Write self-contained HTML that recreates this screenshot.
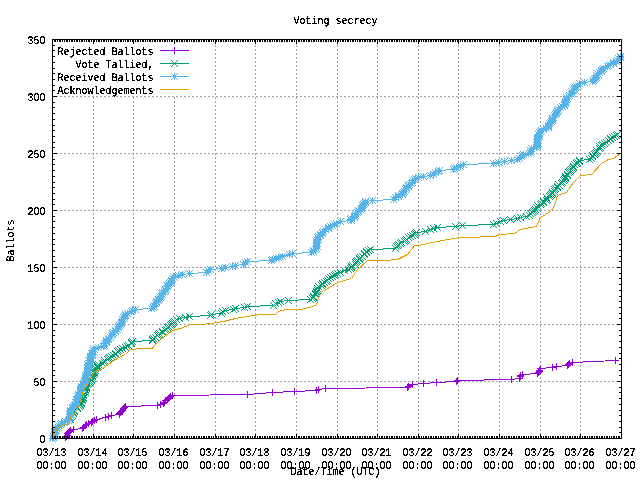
<!DOCTYPE html>
<html><head><meta charset="utf-8"><style>
html,body{margin:0;padding:0;background:#fff;overflow:hidden;}
svg{display:block;}
text{font-family:"Liberation Mono",monospace;font-size:11.5px;fill:#000;text-rendering:geometricPrecision;}
</style></head><body>
<svg width="640" height="480" viewBox="0 0 640 480">
<defs><filter id="crisp2" filterUnits="userSpaceOnUse" x="0" y="0" width="640" height="480"><feComponentTransfer><feFuncA type="discrete" tableValues="0 0 0 0 0 0 0 0 1 1 1 1 1 1 1 1 1 1 1 1"/></feComponentTransfer></filter><filter id="crisp" filterUnits="userSpaceOnUse" x="0" y="0" width="640" height="480"><feComponentTransfer><feFuncA type="discrete" tableValues="0 0 0 0 0 0 1 1 1 1 1 1 1 1 1 1 1 1 1 1"/></feComponentTransfer></filter></defs>
<rect width="640" height="480" fill="#fff"/>
<path d="M93.5 439V40M133.5 439V40M174.5 439V40M215.5 439V40M255.5 439V40M296.5 439V40M337.5 439V40M377.5 439V40M418.5 439V40M458.5 439V40M499.5 439V40M540.5 439V40M580.5 439V40M52 381.5H621M52 324.5H621M52 267.5H621M52 210.5H621M52 153.5H621M52 96.5H621" stroke="#a0a0a0" stroke-dasharray="2 2" fill="none" shape-rendering="crispEdges"/>
<polyline points="65.5,437.5 66.5,436.5 67.5,435.5 67.5,433.5 68.5,432.5 69.5,431.5 70.5,430.5 73.5,429.5 82.5,428.5 83.5,427.5 85.5,425.5 86.5,424.5 88.5,423.5 91.5,422.5 92.5,421.5 94.5,420.5 96.5,419.5 105.5,417.5 108.5,416.5 111.5,415.5 119.5,414.5 119.5,413.5 120.5,412.5 121.5,411.5 122.5,410.5 123.5,408.5 124.5,407.5 125.5,406.5 157.5,405.5 160.5,404.5 163.5,403.5 164.5,402.5 165.5,400.5 167.5,399.5 168.5,398.5 169.5,397.5 170.5,396.5 172.5,395.5 247.5,394.5 272.5,392.5 294.5,391.5 316.5,390.5 318.5,389.5 325.5,388.5 407.5,387.5 408.5,386.5 412.5,384.5 423.5,383.5 436.5,382.5 456.5,381.5 457.5,380.5 511.5,379.5 519.5,378.5 520.5,376.5 520.5,375.5 522.5,374.5 537.5,373.5 538.5,372.5 539.5,371.5 539.5,370.5 540.5,368.5 552.5,367.5 556.5,366.5 567.5,365.5 568.5,364.5 569.5,363.5 572.5,362.5 615.5,360.5" fill="none" stroke="#9400d3" shape-rendering="crispEdges"/><path d="M62.0 437.5h7M65.5 434.0v7M63.0 436.5h7M66.5 433.0v7M64.0 435.5h7M67.5 432.0v7M64.0 433.5h7M67.5 430.0v7M65.0 432.5h7M68.5 429.0v7M66.0 431.5h7M69.5 428.0v7M67.0 430.5h7M70.5 427.0v7M70.0 429.5h7M73.5 426.0v7M79.0 428.5h7M82.5 425.0v7M80.0 427.5h7M83.5 424.0v7M82.0 425.5h7M85.5 422.0v7M83.0 424.5h7M86.5 421.0v7M85.0 423.5h7M88.5 420.0v7M88.0 422.5h7M91.5 419.0v7M89.0 421.5h7M92.5 418.0v7M91.0 420.5h7M94.5 417.0v7M93.0 419.5h7M96.5 416.0v7M102.0 417.5h7M105.5 414.0v7M105.0 416.5h7M108.5 413.0v7M108.0 415.5h7M111.5 412.0v7M116.0 414.5h7M119.5 411.0v7M116.0 413.5h7M119.5 410.0v7M117.0 412.5h7M120.5 409.0v7M118.0 411.5h7M121.5 408.0v7M119.0 410.5h7M122.5 407.0v7M120.0 408.5h7M123.5 405.0v7M121.0 407.5h7M124.5 404.0v7M122.0 406.5h7M125.5 403.0v7M154.0 405.5h7M157.5 402.0v7M157.0 404.5h7M160.5 401.0v7M160.0 403.5h7M163.5 400.0v7M161.0 402.5h7M164.5 399.0v7M162.0 400.5h7M165.5 397.0v7M164.0 399.5h7M167.5 396.0v7M165.0 398.5h7M168.5 395.0v7M166.0 397.5h7M169.5 394.0v7M167.0 396.5h7M170.5 393.0v7M169.0 395.5h7M172.5 392.0v7M244.0 394.5h7M247.5 391.0v7M269.0 392.5h7M272.5 389.0v7M291.0 391.5h7M294.5 388.0v7M313.0 390.5h7M316.5 387.0v7M315.0 389.5h7M318.5 386.0v7M322.0 388.5h7M325.5 385.0v7M404.0 387.5h7M407.5 384.0v7M405.0 386.5h7M408.5 383.0v7M409.0 384.5h7M412.5 381.0v7M420.0 383.5h7M423.5 380.0v7M433.0 382.5h7M436.5 379.0v7M453.0 381.5h7M456.5 378.0v7M454.0 380.5h7M457.5 377.0v7M508.0 379.5h7M511.5 376.0v7M516.0 378.5h7M519.5 375.0v7M517.0 376.5h7M520.5 373.0v7M517.0 375.5h7M520.5 372.0v7M519.0 374.5h7M522.5 371.0v7M534.0 373.5h7M537.5 370.0v7M535.0 372.5h7M538.5 369.0v7M536.0 371.5h7M539.5 368.0v7M536.0 370.5h7M539.5 367.0v7M537.0 368.5h7M540.5 365.0v7M549.0 367.5h7M552.5 364.0v7M553.0 366.5h7M556.5 363.0v7M564.0 365.5h7M567.5 362.0v7M565.0 364.5h7M568.5 361.0v7M566.0 363.5h7M569.5 360.0v7M569.0 362.5h7M572.5 359.0v7M612.0 360.5h7M615.5 357.0v7" fill="none" stroke="#9400d3" shape-rendering="crispEdges"/>
<polyline points="52.5,438.5 53.5,437.5 53.5,436.5 54.5,435.5 55.5,433.5 54.5,432.5 54.5,431.5 56.5,430.5 55.5,429.5 56.5,428.5 58.5,427.5 58.5,425.5 60.5,424.5 61.5,423.5 64.5,422.5 65.5,421.5 68.5,420.5 70.5,419.5 70.5,417.5 71.5,416.5 72.5,415.5 71.5,414.5 73.5,413.5 73.5,412.5 74.5,411.5 74.5,410.5 77.5,408.5 77.5,407.5 79.5,406.5 80.5,405.5 80.5,404.5 81.5,403.5 81.5,402.5 82.5,400.5 82.5,399.5 83.5,398.5 83.5,397.5 82.5,396.5 83.5,395.5 83.5,394.5 85.5,392.5 84.5,391.5 85.5,390.5 85.5,389.5 86.5,388.5 86.5,387.5 86.5,386.5 87.5,384.5 88.5,383.5 89.5,382.5 90.5,381.5 91.5,380.5 91.5,379.5 92.5,378.5 92.5,376.5 92.5,375.5 93.5,374.5 94.5,373.5 94.5,372.5 94.5,371.5 95.5,370.5 95.5,368.5 97.5,367.5 97.5,366.5 97.5,365.5 98.5,364.5 102.5,363.5 104.5,362.5 104.5,360.5 107.5,359.5 108.5,358.5 109.5,357.5 111.5,356.5 113.5,355.5 115.5,354.5 115.5,353.5 117.5,351.5 118.5,350.5 120.5,349.5 122.5,348.5 125.5,347.5 127.5,346.5 128.5,345.5 131.5,343.5 131.5,342.5 132.5,341.5 152.5,340.5 152.5,339.5 153.5,338.5 155.5,337.5 157.5,335.5 158.5,334.5 159.5,333.5 162.5,332.5 162.5,331.5 165.5,330.5 166.5,329.5 167.5,327.5 168.5,326.5 170.5,325.5 171.5,324.5 172.5,323.5 173.5,322.5 174.5,321.5 176.5,319.5 179.5,318.5 185.5,317.5 189.5,316.5 210.5,315.5 211.5,314.5 221.5,313.5 222.5,311.5 225.5,310.5 233.5,309.5 235.5,308.5 244.5,307.5 247.5,306.5 273.5,305.5 275.5,303.5 278.5,302.5 280.5,301.5 288.5,300.5 310.5,299.5 312.5,298.5 313.5,297.5 313.5,296.5 315.5,294.5 315.5,293.5 316.5,292.5 316.5,291.5 317.5,290.5 318.5,289.5 317.5,288.5 318.5,286.5 321.5,285.5 322.5,284.5 322.5,283.5 324.5,282.5 326.5,281.5 327.5,280.5 328.5,278.5 330.5,277.5 332.5,276.5 334.5,275.5 335.5,274.5 337.5,273.5 340.5,272.5 344.5,270.5 348.5,269.5 350.5,268.5 351.5,267.5 351.5,266.5 352.5,265.5 355.5,264.5 355.5,262.5 356.5,261.5 357.5,260.5 359.5,259.5 359.5,258.5 360.5,257.5 362.5,256.5 364.5,254.5 364.5,253.5 366.5,252.5 366.5,251.5 368.5,250.5 370.5,249.5 395.5,248.5 396.5,246.5 397.5,245.5 398.5,244.5 400.5,243.5 401.5,242.5 404.5,241.5 405.5,240.5 406.5,239.5 408.5,237.5 410.5,236.5 412.5,235.5 414.5,234.5 415.5,233.5 416.5,232.5 425.5,231.5 430.5,229.5 433.5,228.5 437.5,227.5 455.5,226.5 462.5,225.5 493.5,224.5 496.5,223.5 500.5,221.5 503.5,220.5 510.5,219.5 517.5,218.5 520.5,217.5 526.5,216.5 529.5,215.5 530.5,213.5 532.5,212.5 533.5,211.5 534.5,210.5 535.5,209.5 537.5,208.5 536.5,207.5 537.5,205.5 540.5,204.5 541.5,203.5 543.5,202.5 543.5,201.5 546.5,200.5 547.5,199.5 546.5,197.5 549.5,196.5 550.5,195.5 551.5,194.5 552.5,193.5 552.5,192.5 554.5,191.5 554.5,189.5 555.5,188.5 557.5,187.5 557.5,186.5 559.5,185.5 558.5,184.5 561.5,183.5 562.5,182.5 563.5,180.5 564.5,179.5 565.5,178.5 565.5,177.5 565.5,176.5 567.5,175.5 567.5,174.5 568.5,172.5 569.5,171.5 570.5,170.5 571.5,169.5 572.5,168.5 573.5,167.5 573.5,166.5 574.5,164.5 576.5,163.5 577.5,162.5 579.5,161.5 579.5,160.5 589.5,159.5 591.5,158.5 592.5,156.5 592.5,155.5 594.5,154.5 595.5,153.5 596.5,152.5 597.5,151.5 596.5,150.5 599.5,148.5 600.5,147.5 599.5,146.5 601.5,145.5 602.5,144.5 604.5,143.5 606.5,142.5 608.5,140.5 610.5,139.5 610.5,138.5 612.5,137.5 614.5,136.5 616.5,135.5 617.5,134.5" fill="none" stroke="#009e73" shape-rendering="crispEdges"/><path d="M49.0 435.0l7 7M49.0 442.0l7 -7M50.0 434.0l7 7M50.0 441.0l7 -7M50.0 433.0l7 7M50.0 440.0l7 -7M51.0 432.0l7 7M51.0 439.0l7 -7M52.0 430.0l7 7M52.0 437.0l7 -7M51.0 429.0l7 7M51.0 436.0l7 -7M51.0 428.0l7 7M51.0 435.0l7 -7M53.0 427.0l7 7M53.0 434.0l7 -7M52.0 426.0l7 7M52.0 433.0l7 -7M53.0 425.0l7 7M53.0 432.0l7 -7M55.0 424.0l7 7M55.0 431.0l7 -7M55.0 422.0l7 7M55.0 429.0l7 -7M57.0 421.0l7 7M57.0 428.0l7 -7M58.0 420.0l7 7M58.0 427.0l7 -7M61.0 419.0l7 7M61.0 426.0l7 -7M62.0 418.0l7 7M62.0 425.0l7 -7M65.0 417.0l7 7M65.0 424.0l7 -7M67.0 416.0l7 7M67.0 423.0l7 -7M67.0 414.0l7 7M67.0 421.0l7 -7M68.0 413.0l7 7M68.0 420.0l7 -7M69.0 412.0l7 7M69.0 419.0l7 -7M68.0 411.0l7 7M68.0 418.0l7 -7M70.0 410.0l7 7M70.0 417.0l7 -7M70.0 409.0l7 7M70.0 416.0l7 -7M71.0 408.0l7 7M71.0 415.0l7 -7M71.0 407.0l7 7M71.0 414.0l7 -7M74.0 405.0l7 7M74.0 412.0l7 -7M74.0 404.0l7 7M74.0 411.0l7 -7M76.0 403.0l7 7M76.0 410.0l7 -7M77.0 402.0l7 7M77.0 409.0l7 -7M77.0 401.0l7 7M77.0 408.0l7 -7M78.0 400.0l7 7M78.0 407.0l7 -7M78.0 399.0l7 7M78.0 406.0l7 -7M79.0 397.0l7 7M79.0 404.0l7 -7M79.0 396.0l7 7M79.0 403.0l7 -7M80.0 395.0l7 7M80.0 402.0l7 -7M80.0 394.0l7 7M80.0 401.0l7 -7M79.0 393.0l7 7M79.0 400.0l7 -7M80.0 392.0l7 7M80.0 399.0l7 -7M80.0 391.0l7 7M80.0 398.0l7 -7M82.0 389.0l7 7M82.0 396.0l7 -7M81.0 388.0l7 7M81.0 395.0l7 -7M82.0 387.0l7 7M82.0 394.0l7 -7M82.0 386.0l7 7M82.0 393.0l7 -7M83.0 385.0l7 7M83.0 392.0l7 -7M83.0 384.0l7 7M83.0 391.0l7 -7M83.0 383.0l7 7M83.0 390.0l7 -7M84.0 381.0l7 7M84.0 388.0l7 -7M85.0 380.0l7 7M85.0 387.0l7 -7M86.0 379.0l7 7M86.0 386.0l7 -7M87.0 378.0l7 7M87.0 385.0l7 -7M88.0 377.0l7 7M88.0 384.0l7 -7M88.0 376.0l7 7M88.0 383.0l7 -7M89.0 375.0l7 7M89.0 382.0l7 -7M89.0 373.0l7 7M89.0 380.0l7 -7M89.0 372.0l7 7M89.0 379.0l7 -7M90.0 371.0l7 7M90.0 378.0l7 -7M91.0 370.0l7 7M91.0 377.0l7 -7M91.0 369.0l7 7M91.0 376.0l7 -7M91.0 368.0l7 7M91.0 375.0l7 -7M92.0 367.0l7 7M92.0 374.0l7 -7M92.0 365.0l7 7M92.0 372.0l7 -7M94.0 364.0l7 7M94.0 371.0l7 -7M94.0 363.0l7 7M94.0 370.0l7 -7M94.0 362.0l7 7M94.0 369.0l7 -7M95.0 361.0l7 7M95.0 368.0l7 -7M99.0 360.0l7 7M99.0 367.0l7 -7M101.0 359.0l7 7M101.0 366.0l7 -7M101.0 357.0l7 7M101.0 364.0l7 -7M104.0 356.0l7 7M104.0 363.0l7 -7M105.0 355.0l7 7M105.0 362.0l7 -7M106.0 354.0l7 7M106.0 361.0l7 -7M108.0 353.0l7 7M108.0 360.0l7 -7M110.0 352.0l7 7M110.0 359.0l7 -7M112.0 351.0l7 7M112.0 358.0l7 -7M112.0 350.0l7 7M112.0 357.0l7 -7M114.0 348.0l7 7M114.0 355.0l7 -7M115.0 347.0l7 7M115.0 354.0l7 -7M117.0 346.0l7 7M117.0 353.0l7 -7M119.0 345.0l7 7M119.0 352.0l7 -7M122.0 344.0l7 7M122.0 351.0l7 -7M124.0 343.0l7 7M124.0 350.0l7 -7M125.0 342.0l7 7M125.0 349.0l7 -7M128.0 340.0l7 7M128.0 347.0l7 -7M128.0 339.0l7 7M128.0 346.0l7 -7M129.0 338.0l7 7M129.0 345.0l7 -7M149.0 337.0l7 7M149.0 344.0l7 -7M149.0 336.0l7 7M149.0 343.0l7 -7M150.0 335.0l7 7M150.0 342.0l7 -7M152.0 334.0l7 7M152.0 341.0l7 -7M154.0 332.0l7 7M154.0 339.0l7 -7M155.0 331.0l7 7M155.0 338.0l7 -7M156.0 330.0l7 7M156.0 337.0l7 -7M159.0 329.0l7 7M159.0 336.0l7 -7M159.0 328.0l7 7M159.0 335.0l7 -7M162.0 327.0l7 7M162.0 334.0l7 -7M163.0 326.0l7 7M163.0 333.0l7 -7M164.0 324.0l7 7M164.0 331.0l7 -7M165.0 323.0l7 7M165.0 330.0l7 -7M167.0 322.0l7 7M167.0 329.0l7 -7M168.0 321.0l7 7M168.0 328.0l7 -7M169.0 320.0l7 7M169.0 327.0l7 -7M170.0 319.0l7 7M170.0 326.0l7 -7M171.0 318.0l7 7M171.0 325.0l7 -7M173.0 316.0l7 7M173.0 323.0l7 -7M176.0 315.0l7 7M176.0 322.0l7 -7M182.0 314.0l7 7M182.0 321.0l7 -7M186.0 313.0l7 7M186.0 320.0l7 -7M207.0 312.0l7 7M207.0 319.0l7 -7M208.0 311.0l7 7M208.0 318.0l7 -7M218.0 310.0l7 7M218.0 317.0l7 -7M219.0 308.0l7 7M219.0 315.0l7 -7M222.0 307.0l7 7M222.0 314.0l7 -7M230.0 306.0l7 7M230.0 313.0l7 -7M232.0 305.0l7 7M232.0 312.0l7 -7M241.0 304.0l7 7M241.0 311.0l7 -7M244.0 303.0l7 7M244.0 310.0l7 -7M270.0 302.0l7 7M270.0 309.0l7 -7M272.0 300.0l7 7M272.0 307.0l7 -7M275.0 299.0l7 7M275.0 306.0l7 -7M277.0 298.0l7 7M277.0 305.0l7 -7M285.0 297.0l7 7M285.0 304.0l7 -7M307.0 296.0l7 7M307.0 303.0l7 -7M309.0 295.0l7 7M309.0 302.0l7 -7M310.0 294.0l7 7M310.0 301.0l7 -7M310.0 293.0l7 7M310.0 300.0l7 -7M312.0 291.0l7 7M312.0 298.0l7 -7M312.0 290.0l7 7M312.0 297.0l7 -7M313.0 289.0l7 7M313.0 296.0l7 -7M313.0 288.0l7 7M313.0 295.0l7 -7M314.0 287.0l7 7M314.0 294.0l7 -7M315.0 286.0l7 7M315.0 293.0l7 -7M314.0 285.0l7 7M314.0 292.0l7 -7M315.0 283.0l7 7M315.0 290.0l7 -7M318.0 282.0l7 7M318.0 289.0l7 -7M319.0 281.0l7 7M319.0 288.0l7 -7M319.0 280.0l7 7M319.0 287.0l7 -7M321.0 279.0l7 7M321.0 286.0l7 -7M323.0 278.0l7 7M323.0 285.0l7 -7M324.0 277.0l7 7M324.0 284.0l7 -7M325.0 275.0l7 7M325.0 282.0l7 -7M327.0 274.0l7 7M327.0 281.0l7 -7M329.0 273.0l7 7M329.0 280.0l7 -7M331.0 272.0l7 7M331.0 279.0l7 -7M332.0 271.0l7 7M332.0 278.0l7 -7M334.0 270.0l7 7M334.0 277.0l7 -7M337.0 269.0l7 7M337.0 276.0l7 -7M341.0 267.0l7 7M341.0 274.0l7 -7M345.0 266.0l7 7M345.0 273.0l7 -7M347.0 265.0l7 7M347.0 272.0l7 -7M348.0 264.0l7 7M348.0 271.0l7 -7M348.0 263.0l7 7M348.0 270.0l7 -7M349.0 262.0l7 7M349.0 269.0l7 -7M352.0 261.0l7 7M352.0 268.0l7 -7M352.0 259.0l7 7M352.0 266.0l7 -7M353.0 258.0l7 7M353.0 265.0l7 -7M354.0 257.0l7 7M354.0 264.0l7 -7M356.0 256.0l7 7M356.0 263.0l7 -7M356.0 255.0l7 7M356.0 262.0l7 -7M357.0 254.0l7 7M357.0 261.0l7 -7M359.0 253.0l7 7M359.0 260.0l7 -7M361.0 251.0l7 7M361.0 258.0l7 -7M361.0 250.0l7 7M361.0 257.0l7 -7M363.0 249.0l7 7M363.0 256.0l7 -7M363.0 248.0l7 7M363.0 255.0l7 -7M365.0 247.0l7 7M365.0 254.0l7 -7M367.0 246.0l7 7M367.0 253.0l7 -7M392.0 245.0l7 7M392.0 252.0l7 -7M393.0 243.0l7 7M393.0 250.0l7 -7M394.0 242.0l7 7M394.0 249.0l7 -7M395.0 241.0l7 7M395.0 248.0l7 -7M397.0 240.0l7 7M397.0 247.0l7 -7M398.0 239.0l7 7M398.0 246.0l7 -7M401.0 238.0l7 7M401.0 245.0l7 -7M402.0 237.0l7 7M402.0 244.0l7 -7M403.0 236.0l7 7M403.0 243.0l7 -7M405.0 234.0l7 7M405.0 241.0l7 -7M407.0 233.0l7 7M407.0 240.0l7 -7M409.0 232.0l7 7M409.0 239.0l7 -7M411.0 231.0l7 7M411.0 238.0l7 -7M412.0 230.0l7 7M412.0 237.0l7 -7M413.0 229.0l7 7M413.0 236.0l7 -7M422.0 228.0l7 7M422.0 235.0l7 -7M427.0 226.0l7 7M427.0 233.0l7 -7M430.0 225.0l7 7M430.0 232.0l7 -7M434.0 224.0l7 7M434.0 231.0l7 -7M452.0 223.0l7 7M452.0 230.0l7 -7M459.0 222.0l7 7M459.0 229.0l7 -7M490.0 221.0l7 7M490.0 228.0l7 -7M493.0 220.0l7 7M493.0 227.0l7 -7M497.0 218.0l7 7M497.0 225.0l7 -7M500.0 217.0l7 7M500.0 224.0l7 -7M507.0 216.0l7 7M507.0 223.0l7 -7M514.0 215.0l7 7M514.0 222.0l7 -7M517.0 214.0l7 7M517.0 221.0l7 -7M523.0 213.0l7 7M523.0 220.0l7 -7M526.0 212.0l7 7M526.0 219.0l7 -7M527.0 210.0l7 7M527.0 217.0l7 -7M529.0 209.0l7 7M529.0 216.0l7 -7M530.0 208.0l7 7M530.0 215.0l7 -7M531.0 207.0l7 7M531.0 214.0l7 -7M532.0 206.0l7 7M532.0 213.0l7 -7M534.0 205.0l7 7M534.0 212.0l7 -7M533.0 204.0l7 7M533.0 211.0l7 -7M534.0 202.0l7 7M534.0 209.0l7 -7M537.0 201.0l7 7M537.0 208.0l7 -7M538.0 200.0l7 7M538.0 207.0l7 -7M540.0 199.0l7 7M540.0 206.0l7 -7M540.0 198.0l7 7M540.0 205.0l7 -7M543.0 197.0l7 7M543.0 204.0l7 -7M544.0 196.0l7 7M544.0 203.0l7 -7M543.0 194.0l7 7M543.0 201.0l7 -7M546.0 193.0l7 7M546.0 200.0l7 -7M547.0 192.0l7 7M547.0 199.0l7 -7M548.0 191.0l7 7M548.0 198.0l7 -7M549.0 190.0l7 7M549.0 197.0l7 -7M549.0 189.0l7 7M549.0 196.0l7 -7M551.0 188.0l7 7M551.0 195.0l7 -7M551.0 186.0l7 7M551.0 193.0l7 -7M552.0 185.0l7 7M552.0 192.0l7 -7M554.0 184.0l7 7M554.0 191.0l7 -7M554.0 183.0l7 7M554.0 190.0l7 -7M556.0 182.0l7 7M556.0 189.0l7 -7M555.0 181.0l7 7M555.0 188.0l7 -7M558.0 180.0l7 7M558.0 187.0l7 -7M559.0 179.0l7 7M559.0 186.0l7 -7M560.0 177.0l7 7M560.0 184.0l7 -7M561.0 176.0l7 7M561.0 183.0l7 -7M562.0 175.0l7 7M562.0 182.0l7 -7M562.0 174.0l7 7M562.0 181.0l7 -7M562.0 173.0l7 7M562.0 180.0l7 -7M564.0 172.0l7 7M564.0 179.0l7 -7M564.0 171.0l7 7M564.0 178.0l7 -7M565.0 169.0l7 7M565.0 176.0l7 -7M566.0 168.0l7 7M566.0 175.0l7 -7M567.0 167.0l7 7M567.0 174.0l7 -7M568.0 166.0l7 7M568.0 173.0l7 -7M569.0 165.0l7 7M569.0 172.0l7 -7M570.0 164.0l7 7M570.0 171.0l7 -7M570.0 163.0l7 7M570.0 170.0l7 -7M571.0 161.0l7 7M571.0 168.0l7 -7M573.0 160.0l7 7M573.0 167.0l7 -7M574.0 159.0l7 7M574.0 166.0l7 -7M576.0 158.0l7 7M576.0 165.0l7 -7M576.0 157.0l7 7M576.0 164.0l7 -7M586.0 156.0l7 7M586.0 163.0l7 -7M588.0 155.0l7 7M588.0 162.0l7 -7M589.0 153.0l7 7M589.0 160.0l7 -7M589.0 152.0l7 7M589.0 159.0l7 -7M591.0 151.0l7 7M591.0 158.0l7 -7M592.0 150.0l7 7M592.0 157.0l7 -7M593.0 149.0l7 7M593.0 156.0l7 -7M594.0 148.0l7 7M594.0 155.0l7 -7M593.0 147.0l7 7M593.0 154.0l7 -7M596.0 145.0l7 7M596.0 152.0l7 -7M597.0 144.0l7 7M597.0 151.0l7 -7M596.0 143.0l7 7M596.0 150.0l7 -7M598.0 142.0l7 7M598.0 149.0l7 -7M599.0 141.0l7 7M599.0 148.0l7 -7M601.0 140.0l7 7M601.0 147.0l7 -7M603.0 139.0l7 7M603.0 146.0l7 -7M605.0 137.0l7 7M605.0 144.0l7 -7M607.0 136.0l7 7M607.0 143.0l7 -7M607.0 135.0l7 7M607.0 142.0l7 -7M609.0 134.0l7 7M609.0 141.0l7 -7M611.0 133.0l7 7M611.0 140.0l7 -7M613.0 132.0l7 7M613.0 139.0l7 -7M614.0 131.0l7 7M614.0 138.0l7 -7" fill="none" stroke="#009e73" shape-rendering="crispEdges"/>
<polyline points="52.5,438.5 53.5,437.5 53.5,436.5 54.5,435.5 55.5,433.5 54.5,432.5 54.5,431.5 56.5,430.5 55.5,429.5 56.5,428.5 58.5,427.5 58.5,425.5 60.5,424.5 61.5,423.5 64.5,422.5 65.5,421.5 68.5,420.5 69.5,419.5 69.5,417.5 69.5,416.5 70.5,415.5 69.5,414.5 70.5,413.5 70.5,412.5 70.5,411.5 70.5,410.5 72.5,408.5 72.5,407.5 73.5,406.5 74.5,405.5 75.5,404.5 76.5,403.5 75.5,402.5 76.5,400.5 76.5,399.5 78.5,398.5 78.5,397.5 77.5,396.5 78.5,395.5 78.5,394.5 80.5,392.5 80.5,391.5 80.5,390.5 80.5,389.5 81.5,388.5 81.5,387.5 81.5,386.5 82.5,384.5 83.5,383.5 84.5,382.5 84.5,381.5 85.5,380.5 85.5,379.5 85.5,378.5 85.5,376.5 85.5,375.5 86.5,374.5 87.5,373.5 87.5,372.5 87.5,371.5 87.5,370.5 87.5,368.5 88.5,367.5 88.5,366.5 88.5,365.5 87.5,364.5 89.5,363.5 90.5,362.5 88.5,360.5 90.5,359.5 90.5,358.5 90.5,357.5 90.5,356.5 92.5,355.5 92.5,354.5 91.5,353.5 93.5,351.5 92.5,350.5 94.5,349.5 93.5,348.5 98.5,347.5 103.5,346.5 104.5,345.5 104.5,343.5 106.5,342.5 106.5,341.5 106.5,340.5 108.5,339.5 108.5,338.5 110.5,337.5 111.5,335.5 112.5,334.5 112.5,333.5 113.5,332.5 115.5,331.5 115.5,330.5 117.5,329.5 118.5,327.5 118.5,326.5 119.5,325.5 120.5,324.5 121.5,323.5 121.5,322.5 122.5,321.5 122.5,319.5 124.5,318.5 123.5,317.5 124.5,316.5 125.5,315.5 125.5,314.5 127.5,313.5 131.5,311.5 132.5,310.5 135.5,309.5 151.5,308.5 153.5,307.5 154.5,306.5 153.5,305.5 155.5,303.5 156.5,302.5 156.5,301.5 158.5,300.5 158.5,299.5 159.5,298.5 160.5,297.5 161.5,296.5 162.5,294.5 161.5,293.5 162.5,292.5 164.5,291.5 165.5,290.5 165.5,289.5 166.5,288.5 167.5,286.5 167.5,285.5 168.5,284.5 169.5,283.5 170.5,282.5 171.5,281.5 171.5,280.5 172.5,278.5 174.5,277.5 173.5,276.5 178.5,275.5 182.5,274.5 189.5,273.5 206.5,272.5 208.5,270.5 210.5,269.5 221.5,268.5 225.5,267.5 232.5,266.5 235.5,265.5 243.5,264.5 245.5,262.5 247.5,261.5 271.5,260.5 272.5,259.5 276.5,258.5 278.5,257.5 282.5,256.5 289.5,254.5 292.5,253.5 311.5,252.5 313.5,251.5 313.5,250.5 315.5,249.5 316.5,248.5 317.5,246.5 316.5,245.5 316.5,244.5 316.5,243.5 316.5,242.5 316.5,241.5 317.5,240.5 318.5,239.5 317.5,237.5 318.5,236.5 320.5,235.5 320.5,234.5 322.5,233.5 322.5,232.5 323.5,231.5 325.5,229.5 328.5,228.5 328.5,227.5 330.5,226.5 332.5,225.5 334.5,224.5 336.5,223.5 340.5,221.5 351.5,220.5 350.5,219.5 351.5,218.5 354.5,217.5 354.5,216.5 355.5,215.5 355.5,213.5 357.5,212.5 358.5,211.5 358.5,210.5 360.5,209.5 361.5,208.5 362.5,207.5 362.5,205.5 363.5,204.5 364.5,203.5 365.5,202.5 365.5,201.5 372.5,200.5 393.5,199.5 395.5,197.5 398.5,196.5 398.5,195.5 402.5,194.5 402.5,193.5 403.5,192.5 404.5,191.5 405.5,189.5 406.5,188.5 406.5,187.5 408.5,186.5 408.5,185.5 409.5,184.5 411.5,183.5 412.5,182.5 412.5,180.5 414.5,179.5 415.5,178.5 418.5,177.5 423.5,176.5 430.5,175.5 433.5,174.5 435.5,172.5 438.5,171.5 439.5,170.5 453.5,169.5 454.5,168.5 456.5,167.5 460.5,166.5 463.5,164.5 493.5,163.5 498.5,162.5 504.5,161.5 511.5,160.5 517.5,159.5 519.5,158.5 521.5,156.5 522.5,155.5 523.5,154.5 528.5,153.5 530.5,152.5 531.5,151.5 530.5,150.5 531.5,148.5 536.5,147.5 537.5,146.5 537.5,145.5 537.5,144.5 538.5,143.5 536.5,142.5 537.5,140.5 537.5,139.5 537.5,138.5 537.5,137.5 539.5,136.5 539.5,135.5 538.5,134.5 539.5,132.5 540.5,131.5 541.5,130.5 543.5,129.5 546.5,128.5 548.5,127.5 548.5,126.5 548.5,125.5 549.5,123.5 550.5,122.5 551.5,121.5 552.5,120.5 552.5,119.5 552.5,118.5 553.5,117.5 554.5,115.5 555.5,114.5 556.5,113.5 556.5,112.5 557.5,111.5 557.5,110.5 558.5,109.5 560.5,107.5 562.5,106.5 564.5,105.5 564.5,104.5 565.5,103.5 565.5,102.5 565.5,101.5 566.5,99.5 567.5,98.5 566.5,97.5 568.5,96.5 569.5,95.5 571.5,94.5 572.5,93.5 571.5,91.5 573.5,90.5 574.5,89.5 574.5,88.5 575.5,87.5 576.5,86.5 578.5,85.5 579.5,83.5 584.5,82.5 592.5,81.5 593.5,80.5 594.5,79.5 595.5,78.5 596.5,77.5 596.5,75.5 598.5,74.5 597.5,73.5 599.5,72.5 601.5,71.5 601.5,70.5 602.5,69.5 603.5,68.5 607.5,66.5 608.5,65.5 610.5,64.5 613.5,63.5 613.5,62.5 616.5,61.5 617.5,60.5 618.5,58.5 620.5,57.5 620.5,56.5" fill="none" stroke="#56b4e9" shape-rendering="crispEdges"/><path d="M49.0 438.5h7M52.5 435.0v7M49.0 435.0l7 7M49.0 442.0l7 -7M50.0 437.5h7M53.5 434.0v7M50.0 434.0l7 7M50.0 441.0l7 -7M50.0 436.5h7M53.5 433.0v7M50.0 433.0l7 7M50.0 440.0l7 -7M51.0 435.5h7M54.5 432.0v7M51.0 432.0l7 7M51.0 439.0l7 -7M52.0 433.5h7M55.5 430.0v7M52.0 430.0l7 7M52.0 437.0l7 -7M51.0 432.5h7M54.5 429.0v7M51.0 429.0l7 7M51.0 436.0l7 -7M51.0 431.5h7M54.5 428.0v7M51.0 428.0l7 7M51.0 435.0l7 -7M53.0 430.5h7M56.5 427.0v7M53.0 427.0l7 7M53.0 434.0l7 -7M52.0 429.5h7M55.5 426.0v7M52.0 426.0l7 7M52.0 433.0l7 -7M53.0 428.5h7M56.5 425.0v7M53.0 425.0l7 7M53.0 432.0l7 -7M55.0 427.5h7M58.5 424.0v7M55.0 424.0l7 7M55.0 431.0l7 -7M55.0 425.5h7M58.5 422.0v7M55.0 422.0l7 7M55.0 429.0l7 -7M57.0 424.5h7M60.5 421.0v7M57.0 421.0l7 7M57.0 428.0l7 -7M58.0 423.5h7M61.5 420.0v7M58.0 420.0l7 7M58.0 427.0l7 -7M61.0 422.5h7M64.5 419.0v7M61.0 419.0l7 7M61.0 426.0l7 -7M62.0 421.5h7M65.5 418.0v7M62.0 418.0l7 7M62.0 425.0l7 -7M65.0 420.5h7M68.5 417.0v7M65.0 417.0l7 7M65.0 424.0l7 -7M66.0 419.5h7M69.5 416.0v7M66.0 416.0l7 7M66.0 423.0l7 -7M66.0 417.5h7M69.5 414.0v7M66.0 414.0l7 7M66.0 421.0l7 -7M66.0 416.5h7M69.5 413.0v7M66.0 413.0l7 7M66.0 420.0l7 -7M67.0 415.5h7M70.5 412.0v7M67.0 412.0l7 7M67.0 419.0l7 -7M66.0 414.5h7M69.5 411.0v7M66.0 411.0l7 7M66.0 418.0l7 -7M67.0 413.5h7M70.5 410.0v7M67.0 410.0l7 7M67.0 417.0l7 -7M67.0 412.5h7M70.5 409.0v7M67.0 409.0l7 7M67.0 416.0l7 -7M67.0 411.5h7M70.5 408.0v7M67.0 408.0l7 7M67.0 415.0l7 -7M67.0 410.5h7M70.5 407.0v7M67.0 407.0l7 7M67.0 414.0l7 -7M69.0 408.5h7M72.5 405.0v7M69.0 405.0l7 7M69.0 412.0l7 -7M69.0 407.5h7M72.5 404.0v7M69.0 404.0l7 7M69.0 411.0l7 -7M70.0 406.5h7M73.5 403.0v7M70.0 403.0l7 7M70.0 410.0l7 -7M71.0 405.5h7M74.5 402.0v7M71.0 402.0l7 7M71.0 409.0l7 -7M72.0 404.5h7M75.5 401.0v7M72.0 401.0l7 7M72.0 408.0l7 -7M73.0 403.5h7M76.5 400.0v7M73.0 400.0l7 7M73.0 407.0l7 -7M72.0 402.5h7M75.5 399.0v7M72.0 399.0l7 7M72.0 406.0l7 -7M73.0 400.5h7M76.5 397.0v7M73.0 397.0l7 7M73.0 404.0l7 -7M73.0 399.5h7M76.5 396.0v7M73.0 396.0l7 7M73.0 403.0l7 -7M75.0 398.5h7M78.5 395.0v7M75.0 395.0l7 7M75.0 402.0l7 -7M75.0 397.5h7M78.5 394.0v7M75.0 394.0l7 7M75.0 401.0l7 -7M74.0 396.5h7M77.5 393.0v7M74.0 393.0l7 7M74.0 400.0l7 -7M75.0 395.5h7M78.5 392.0v7M75.0 392.0l7 7M75.0 399.0l7 -7M75.0 394.5h7M78.5 391.0v7M75.0 391.0l7 7M75.0 398.0l7 -7M77.0 392.5h7M80.5 389.0v7M77.0 389.0l7 7M77.0 396.0l7 -7M77.0 391.5h7M80.5 388.0v7M77.0 388.0l7 7M77.0 395.0l7 -7M77.0 390.5h7M80.5 387.0v7M77.0 387.0l7 7M77.0 394.0l7 -7M77.0 389.5h7M80.5 386.0v7M77.0 386.0l7 7M77.0 393.0l7 -7M78.0 388.5h7M81.5 385.0v7M78.0 385.0l7 7M78.0 392.0l7 -7M78.0 387.5h7M81.5 384.0v7M78.0 384.0l7 7M78.0 391.0l7 -7M78.0 386.5h7M81.5 383.0v7M78.0 383.0l7 7M78.0 390.0l7 -7M79.0 384.5h7M82.5 381.0v7M79.0 381.0l7 7M79.0 388.0l7 -7M80.0 383.5h7M83.5 380.0v7M80.0 380.0l7 7M80.0 387.0l7 -7M81.0 382.5h7M84.5 379.0v7M81.0 379.0l7 7M81.0 386.0l7 -7M81.0 381.5h7M84.5 378.0v7M81.0 378.0l7 7M81.0 385.0l7 -7M82.0 380.5h7M85.5 377.0v7M82.0 377.0l7 7M82.0 384.0l7 -7M82.0 379.5h7M85.5 376.0v7M82.0 376.0l7 7M82.0 383.0l7 -7M82.0 378.5h7M85.5 375.0v7M82.0 375.0l7 7M82.0 382.0l7 -7M82.0 376.5h7M85.5 373.0v7M82.0 373.0l7 7M82.0 380.0l7 -7M82.0 375.5h7M85.5 372.0v7M82.0 372.0l7 7M82.0 379.0l7 -7M83.0 374.5h7M86.5 371.0v7M83.0 371.0l7 7M83.0 378.0l7 -7M84.0 373.5h7M87.5 370.0v7M84.0 370.0l7 7M84.0 377.0l7 -7M84.0 372.5h7M87.5 369.0v7M84.0 369.0l7 7M84.0 376.0l7 -7M84.0 371.5h7M87.5 368.0v7M84.0 368.0l7 7M84.0 375.0l7 -7M84.0 370.5h7M87.5 367.0v7M84.0 367.0l7 7M84.0 374.0l7 -7M84.0 368.5h7M87.5 365.0v7M84.0 365.0l7 7M84.0 372.0l7 -7M85.0 367.5h7M88.5 364.0v7M85.0 364.0l7 7M85.0 371.0l7 -7M85.0 366.5h7M88.5 363.0v7M85.0 363.0l7 7M85.0 370.0l7 -7M85.0 365.5h7M88.5 362.0v7M85.0 362.0l7 7M85.0 369.0l7 -7M84.0 364.5h7M87.5 361.0v7M84.0 361.0l7 7M84.0 368.0l7 -7M86.0 363.5h7M89.5 360.0v7M86.0 360.0l7 7M86.0 367.0l7 -7M87.0 362.5h7M90.5 359.0v7M87.0 359.0l7 7M87.0 366.0l7 -7M85.0 360.5h7M88.5 357.0v7M85.0 357.0l7 7M85.0 364.0l7 -7M87.0 359.5h7M90.5 356.0v7M87.0 356.0l7 7M87.0 363.0l7 -7M87.0 358.5h7M90.5 355.0v7M87.0 355.0l7 7M87.0 362.0l7 -7M87.0 357.5h7M90.5 354.0v7M87.0 354.0l7 7M87.0 361.0l7 -7M87.0 356.5h7M90.5 353.0v7M87.0 353.0l7 7M87.0 360.0l7 -7M89.0 355.5h7M92.5 352.0v7M89.0 352.0l7 7M89.0 359.0l7 -7M89.0 354.5h7M92.5 351.0v7M89.0 351.0l7 7M89.0 358.0l7 -7M88.0 353.5h7M91.5 350.0v7M88.0 350.0l7 7M88.0 357.0l7 -7M90.0 351.5h7M93.5 348.0v7M90.0 348.0l7 7M90.0 355.0l7 -7M89.0 350.5h7M92.5 347.0v7M89.0 347.0l7 7M89.0 354.0l7 -7M91.0 349.5h7M94.5 346.0v7M91.0 346.0l7 7M91.0 353.0l7 -7M90.0 348.5h7M93.5 345.0v7M90.0 345.0l7 7M90.0 352.0l7 -7M95.0 347.5h7M98.5 344.0v7M95.0 344.0l7 7M95.0 351.0l7 -7M100.0 346.5h7M103.5 343.0v7M100.0 343.0l7 7M100.0 350.0l7 -7M101.0 345.5h7M104.5 342.0v7M101.0 342.0l7 7M101.0 349.0l7 -7M101.0 343.5h7M104.5 340.0v7M101.0 340.0l7 7M101.0 347.0l7 -7M103.0 342.5h7M106.5 339.0v7M103.0 339.0l7 7M103.0 346.0l7 -7M103.0 341.5h7M106.5 338.0v7M103.0 338.0l7 7M103.0 345.0l7 -7M103.0 340.5h7M106.5 337.0v7M103.0 337.0l7 7M103.0 344.0l7 -7M105.0 339.5h7M108.5 336.0v7M105.0 336.0l7 7M105.0 343.0l7 -7M105.0 338.5h7M108.5 335.0v7M105.0 335.0l7 7M105.0 342.0l7 -7M107.0 337.5h7M110.5 334.0v7M107.0 334.0l7 7M107.0 341.0l7 -7M108.0 335.5h7M111.5 332.0v7M108.0 332.0l7 7M108.0 339.0l7 -7M109.0 334.5h7M112.5 331.0v7M109.0 331.0l7 7M109.0 338.0l7 -7M109.0 333.5h7M112.5 330.0v7M109.0 330.0l7 7M109.0 337.0l7 -7M110.0 332.5h7M113.5 329.0v7M110.0 329.0l7 7M110.0 336.0l7 -7M112.0 331.5h7M115.5 328.0v7M112.0 328.0l7 7M112.0 335.0l7 -7M112.0 330.5h7M115.5 327.0v7M112.0 327.0l7 7M112.0 334.0l7 -7M114.0 329.5h7M117.5 326.0v7M114.0 326.0l7 7M114.0 333.0l7 -7M115.0 327.5h7M118.5 324.0v7M115.0 324.0l7 7M115.0 331.0l7 -7M115.0 326.5h7M118.5 323.0v7M115.0 323.0l7 7M115.0 330.0l7 -7M116.0 325.5h7M119.5 322.0v7M116.0 322.0l7 7M116.0 329.0l7 -7M117.0 324.5h7M120.5 321.0v7M117.0 321.0l7 7M117.0 328.0l7 -7M118.0 323.5h7M121.5 320.0v7M118.0 320.0l7 7M118.0 327.0l7 -7M118.0 322.5h7M121.5 319.0v7M118.0 319.0l7 7M118.0 326.0l7 -7M119.0 321.5h7M122.5 318.0v7M119.0 318.0l7 7M119.0 325.0l7 -7M119.0 319.5h7M122.5 316.0v7M119.0 316.0l7 7M119.0 323.0l7 -7M121.0 318.5h7M124.5 315.0v7M121.0 315.0l7 7M121.0 322.0l7 -7M120.0 317.5h7M123.5 314.0v7M120.0 314.0l7 7M120.0 321.0l7 -7M121.0 316.5h7M124.5 313.0v7M121.0 313.0l7 7M121.0 320.0l7 -7M122.0 315.5h7M125.5 312.0v7M122.0 312.0l7 7M122.0 319.0l7 -7M122.0 314.5h7M125.5 311.0v7M122.0 311.0l7 7M122.0 318.0l7 -7M124.0 313.5h7M127.5 310.0v7M124.0 310.0l7 7M124.0 317.0l7 -7M128.0 311.5h7M131.5 308.0v7M128.0 308.0l7 7M128.0 315.0l7 -7M129.0 310.5h7M132.5 307.0v7M129.0 307.0l7 7M129.0 314.0l7 -7M132.0 309.5h7M135.5 306.0v7M132.0 306.0l7 7M132.0 313.0l7 -7M148.0 308.5h7M151.5 305.0v7M148.0 305.0l7 7M148.0 312.0l7 -7M150.0 307.5h7M153.5 304.0v7M150.0 304.0l7 7M150.0 311.0l7 -7M151.0 306.5h7M154.5 303.0v7M151.0 303.0l7 7M151.0 310.0l7 -7M150.0 305.5h7M153.5 302.0v7M150.0 302.0l7 7M150.0 309.0l7 -7M152.0 303.5h7M155.5 300.0v7M152.0 300.0l7 7M152.0 307.0l7 -7M153.0 302.5h7M156.5 299.0v7M153.0 299.0l7 7M153.0 306.0l7 -7M153.0 301.5h7M156.5 298.0v7M153.0 298.0l7 7M153.0 305.0l7 -7M155.0 300.5h7M158.5 297.0v7M155.0 297.0l7 7M155.0 304.0l7 -7M155.0 299.5h7M158.5 296.0v7M155.0 296.0l7 7M155.0 303.0l7 -7M156.0 298.5h7M159.5 295.0v7M156.0 295.0l7 7M156.0 302.0l7 -7M157.0 297.5h7M160.5 294.0v7M157.0 294.0l7 7M157.0 301.0l7 -7M158.0 296.5h7M161.5 293.0v7M158.0 293.0l7 7M158.0 300.0l7 -7M159.0 294.5h7M162.5 291.0v7M159.0 291.0l7 7M159.0 298.0l7 -7M158.0 293.5h7M161.5 290.0v7M158.0 290.0l7 7M158.0 297.0l7 -7M159.0 292.5h7M162.5 289.0v7M159.0 289.0l7 7M159.0 296.0l7 -7M161.0 291.5h7M164.5 288.0v7M161.0 288.0l7 7M161.0 295.0l7 -7M162.0 290.5h7M165.5 287.0v7M162.0 287.0l7 7M162.0 294.0l7 -7M162.0 289.5h7M165.5 286.0v7M162.0 286.0l7 7M162.0 293.0l7 -7M163.0 288.5h7M166.5 285.0v7M163.0 285.0l7 7M163.0 292.0l7 -7M164.0 286.5h7M167.5 283.0v7M164.0 283.0l7 7M164.0 290.0l7 -7M164.0 285.5h7M167.5 282.0v7M164.0 282.0l7 7M164.0 289.0l7 -7M165.0 284.5h7M168.5 281.0v7M165.0 281.0l7 7M165.0 288.0l7 -7M166.0 283.5h7M169.5 280.0v7M166.0 280.0l7 7M166.0 287.0l7 -7M167.0 282.5h7M170.5 279.0v7M167.0 279.0l7 7M167.0 286.0l7 -7M168.0 281.5h7M171.5 278.0v7M168.0 278.0l7 7M168.0 285.0l7 -7M168.0 280.5h7M171.5 277.0v7M168.0 277.0l7 7M168.0 284.0l7 -7M169.0 278.5h7M172.5 275.0v7M169.0 275.0l7 7M169.0 282.0l7 -7M171.0 277.5h7M174.5 274.0v7M171.0 274.0l7 7M171.0 281.0l7 -7M170.0 276.5h7M173.5 273.0v7M170.0 273.0l7 7M170.0 280.0l7 -7M175.0 275.5h7M178.5 272.0v7M175.0 272.0l7 7M175.0 279.0l7 -7M179.0 274.5h7M182.5 271.0v7M179.0 271.0l7 7M179.0 278.0l7 -7M186.0 273.5h7M189.5 270.0v7M186.0 270.0l7 7M186.0 277.0l7 -7M203.0 272.5h7M206.5 269.0v7M203.0 269.0l7 7M203.0 276.0l7 -7M205.0 270.5h7M208.5 267.0v7M205.0 267.0l7 7M205.0 274.0l7 -7M207.0 269.5h7M210.5 266.0v7M207.0 266.0l7 7M207.0 273.0l7 -7M218.0 268.5h7M221.5 265.0v7M218.0 265.0l7 7M218.0 272.0l7 -7M222.0 267.5h7M225.5 264.0v7M222.0 264.0l7 7M222.0 271.0l7 -7M229.0 266.5h7M232.5 263.0v7M229.0 263.0l7 7M229.0 270.0l7 -7M232.0 265.5h7M235.5 262.0v7M232.0 262.0l7 7M232.0 269.0l7 -7M240.0 264.5h7M243.5 261.0v7M240.0 261.0l7 7M240.0 268.0l7 -7M242.0 262.5h7M245.5 259.0v7M242.0 259.0l7 7M242.0 266.0l7 -7M244.0 261.5h7M247.5 258.0v7M244.0 258.0l7 7M244.0 265.0l7 -7M268.0 260.5h7M271.5 257.0v7M268.0 257.0l7 7M268.0 264.0l7 -7M269.0 259.5h7M272.5 256.0v7M269.0 256.0l7 7M269.0 263.0l7 -7M273.0 258.5h7M276.5 255.0v7M273.0 255.0l7 7M273.0 262.0l7 -7M275.0 257.5h7M278.5 254.0v7M275.0 254.0l7 7M275.0 261.0l7 -7M279.0 256.5h7M282.5 253.0v7M279.0 253.0l7 7M279.0 260.0l7 -7M286.0 254.5h7M289.5 251.0v7M286.0 251.0l7 7M286.0 258.0l7 -7M289.0 253.5h7M292.5 250.0v7M289.0 250.0l7 7M289.0 257.0l7 -7M308.0 252.5h7M311.5 249.0v7M308.0 249.0l7 7M308.0 256.0l7 -7M310.0 251.5h7M313.5 248.0v7M310.0 248.0l7 7M310.0 255.0l7 -7M310.0 250.5h7M313.5 247.0v7M310.0 247.0l7 7M310.0 254.0l7 -7M312.0 249.5h7M315.5 246.0v7M312.0 246.0l7 7M312.0 253.0l7 -7M313.0 248.5h7M316.5 245.0v7M313.0 245.0l7 7M313.0 252.0l7 -7M314.0 246.5h7M317.5 243.0v7M314.0 243.0l7 7M314.0 250.0l7 -7M313.0 245.5h7M316.5 242.0v7M313.0 242.0l7 7M313.0 249.0l7 -7M313.0 244.5h7M316.5 241.0v7M313.0 241.0l7 7M313.0 248.0l7 -7M313.0 243.5h7M316.5 240.0v7M313.0 240.0l7 7M313.0 247.0l7 -7M313.0 242.5h7M316.5 239.0v7M313.0 239.0l7 7M313.0 246.0l7 -7M313.0 241.5h7M316.5 238.0v7M313.0 238.0l7 7M313.0 245.0l7 -7M314.0 240.5h7M317.5 237.0v7M314.0 237.0l7 7M314.0 244.0l7 -7M315.0 239.5h7M318.5 236.0v7M315.0 236.0l7 7M315.0 243.0l7 -7M314.0 237.5h7M317.5 234.0v7M314.0 234.0l7 7M314.0 241.0l7 -7M315.0 236.5h7M318.5 233.0v7M315.0 233.0l7 7M315.0 240.0l7 -7M317.0 235.5h7M320.5 232.0v7M317.0 232.0l7 7M317.0 239.0l7 -7M317.0 234.5h7M320.5 231.0v7M317.0 231.0l7 7M317.0 238.0l7 -7M319.0 233.5h7M322.5 230.0v7M319.0 230.0l7 7M319.0 237.0l7 -7M319.0 232.5h7M322.5 229.0v7M319.0 229.0l7 7M319.0 236.0l7 -7M320.0 231.5h7M323.5 228.0v7M320.0 228.0l7 7M320.0 235.0l7 -7M322.0 229.5h7M325.5 226.0v7M322.0 226.0l7 7M322.0 233.0l7 -7M325.0 228.5h7M328.5 225.0v7M325.0 225.0l7 7M325.0 232.0l7 -7M325.0 227.5h7M328.5 224.0v7M325.0 224.0l7 7M325.0 231.0l7 -7M327.0 226.5h7M330.5 223.0v7M327.0 223.0l7 7M327.0 230.0l7 -7M329.0 225.5h7M332.5 222.0v7M329.0 222.0l7 7M329.0 229.0l7 -7M331.0 224.5h7M334.5 221.0v7M331.0 221.0l7 7M331.0 228.0l7 -7M333.0 223.5h7M336.5 220.0v7M333.0 220.0l7 7M333.0 227.0l7 -7M337.0 221.5h7M340.5 218.0v7M337.0 218.0l7 7M337.0 225.0l7 -7M348.0 220.5h7M351.5 217.0v7M348.0 217.0l7 7M348.0 224.0l7 -7M347.0 219.5h7M350.5 216.0v7M347.0 216.0l7 7M347.0 223.0l7 -7M348.0 218.5h7M351.5 215.0v7M348.0 215.0l7 7M348.0 222.0l7 -7M351.0 217.5h7M354.5 214.0v7M351.0 214.0l7 7M351.0 221.0l7 -7M351.0 216.5h7M354.5 213.0v7M351.0 213.0l7 7M351.0 220.0l7 -7M352.0 215.5h7M355.5 212.0v7M352.0 212.0l7 7M352.0 219.0l7 -7M352.0 213.5h7M355.5 210.0v7M352.0 210.0l7 7M352.0 217.0l7 -7M354.0 212.5h7M357.5 209.0v7M354.0 209.0l7 7M354.0 216.0l7 -7M355.0 211.5h7M358.5 208.0v7M355.0 208.0l7 7M355.0 215.0l7 -7M355.0 210.5h7M358.5 207.0v7M355.0 207.0l7 7M355.0 214.0l7 -7M357.0 209.5h7M360.5 206.0v7M357.0 206.0l7 7M357.0 213.0l7 -7M358.0 208.5h7M361.5 205.0v7M358.0 205.0l7 7M358.0 212.0l7 -7M359.0 207.5h7M362.5 204.0v7M359.0 204.0l7 7M359.0 211.0l7 -7M359.0 205.5h7M362.5 202.0v7M359.0 202.0l7 7M359.0 209.0l7 -7M360.0 204.5h7M363.5 201.0v7M360.0 201.0l7 7M360.0 208.0l7 -7M361.0 203.5h7M364.5 200.0v7M361.0 200.0l7 7M361.0 207.0l7 -7M362.0 202.5h7M365.5 199.0v7M362.0 199.0l7 7M362.0 206.0l7 -7M362.0 201.5h7M365.5 198.0v7M362.0 198.0l7 7M362.0 205.0l7 -7M369.0 200.5h7M372.5 197.0v7M369.0 197.0l7 7M369.0 204.0l7 -7M390.0 199.5h7M393.5 196.0v7M390.0 196.0l7 7M390.0 203.0l7 -7M392.0 197.5h7M395.5 194.0v7M392.0 194.0l7 7M392.0 201.0l7 -7M395.0 196.5h7M398.5 193.0v7M395.0 193.0l7 7M395.0 200.0l7 -7M395.0 195.5h7M398.5 192.0v7M395.0 192.0l7 7M395.0 199.0l7 -7M399.0 194.5h7M402.5 191.0v7M399.0 191.0l7 7M399.0 198.0l7 -7M399.0 193.5h7M402.5 190.0v7M399.0 190.0l7 7M399.0 197.0l7 -7M400.0 192.5h7M403.5 189.0v7M400.0 189.0l7 7M400.0 196.0l7 -7M401.0 191.5h7M404.5 188.0v7M401.0 188.0l7 7M401.0 195.0l7 -7M402.0 189.5h7M405.5 186.0v7M402.0 186.0l7 7M402.0 193.0l7 -7M403.0 188.5h7M406.5 185.0v7M403.0 185.0l7 7M403.0 192.0l7 -7M403.0 187.5h7M406.5 184.0v7M403.0 184.0l7 7M403.0 191.0l7 -7M405.0 186.5h7M408.5 183.0v7M405.0 183.0l7 7M405.0 190.0l7 -7M405.0 185.5h7M408.5 182.0v7M405.0 182.0l7 7M405.0 189.0l7 -7M406.0 184.5h7M409.5 181.0v7M406.0 181.0l7 7M406.0 188.0l7 -7M408.0 183.5h7M411.5 180.0v7M408.0 180.0l7 7M408.0 187.0l7 -7M409.0 182.5h7M412.5 179.0v7M409.0 179.0l7 7M409.0 186.0l7 -7M409.0 180.5h7M412.5 177.0v7M409.0 177.0l7 7M409.0 184.0l7 -7M411.0 179.5h7M414.5 176.0v7M411.0 176.0l7 7M411.0 183.0l7 -7M412.0 178.5h7M415.5 175.0v7M412.0 175.0l7 7M412.0 182.0l7 -7M415.0 177.5h7M418.5 174.0v7M415.0 174.0l7 7M415.0 181.0l7 -7M420.0 176.5h7M423.5 173.0v7M420.0 173.0l7 7M420.0 180.0l7 -7M427.0 175.5h7M430.5 172.0v7M427.0 172.0l7 7M427.0 179.0l7 -7M430.0 174.5h7M433.5 171.0v7M430.0 171.0l7 7M430.0 178.0l7 -7M432.0 172.5h7M435.5 169.0v7M432.0 169.0l7 7M432.0 176.0l7 -7M435.0 171.5h7M438.5 168.0v7M435.0 168.0l7 7M435.0 175.0l7 -7M436.0 170.5h7M439.5 167.0v7M436.0 167.0l7 7M436.0 174.0l7 -7M450.0 169.5h7M453.5 166.0v7M450.0 166.0l7 7M450.0 173.0l7 -7M451.0 168.5h7M454.5 165.0v7M451.0 165.0l7 7M451.0 172.0l7 -7M453.0 167.5h7M456.5 164.0v7M453.0 164.0l7 7M453.0 171.0l7 -7M457.0 166.5h7M460.5 163.0v7M457.0 163.0l7 7M457.0 170.0l7 -7M460.0 164.5h7M463.5 161.0v7M460.0 161.0l7 7M460.0 168.0l7 -7M490.0 163.5h7M493.5 160.0v7M490.0 160.0l7 7M490.0 167.0l7 -7M495.0 162.5h7M498.5 159.0v7M495.0 159.0l7 7M495.0 166.0l7 -7M501.0 161.5h7M504.5 158.0v7M501.0 158.0l7 7M501.0 165.0l7 -7M508.0 160.5h7M511.5 157.0v7M508.0 157.0l7 7M508.0 164.0l7 -7M514.0 159.5h7M517.5 156.0v7M514.0 156.0l7 7M514.0 163.0l7 -7M516.0 158.5h7M519.5 155.0v7M516.0 155.0l7 7M516.0 162.0l7 -7M518.0 156.5h7M521.5 153.0v7M518.0 153.0l7 7M518.0 160.0l7 -7M519.0 155.5h7M522.5 152.0v7M519.0 152.0l7 7M519.0 159.0l7 -7M520.0 154.5h7M523.5 151.0v7M520.0 151.0l7 7M520.0 158.0l7 -7M525.0 153.5h7M528.5 150.0v7M525.0 150.0l7 7M525.0 157.0l7 -7M527.0 152.5h7M530.5 149.0v7M527.0 149.0l7 7M527.0 156.0l7 -7M528.0 151.5h7M531.5 148.0v7M528.0 148.0l7 7M528.0 155.0l7 -7M527.0 150.5h7M530.5 147.0v7M527.0 147.0l7 7M527.0 154.0l7 -7M528.0 148.5h7M531.5 145.0v7M528.0 145.0l7 7M528.0 152.0l7 -7M533.0 147.5h7M536.5 144.0v7M533.0 144.0l7 7M533.0 151.0l7 -7M534.0 146.5h7M537.5 143.0v7M534.0 143.0l7 7M534.0 150.0l7 -7M534.0 145.5h7M537.5 142.0v7M534.0 142.0l7 7M534.0 149.0l7 -7M534.0 144.5h7M537.5 141.0v7M534.0 141.0l7 7M534.0 148.0l7 -7M535.0 143.5h7M538.5 140.0v7M535.0 140.0l7 7M535.0 147.0l7 -7M533.0 142.5h7M536.5 139.0v7M533.0 139.0l7 7M533.0 146.0l7 -7M534.0 140.5h7M537.5 137.0v7M534.0 137.0l7 7M534.0 144.0l7 -7M534.0 139.5h7M537.5 136.0v7M534.0 136.0l7 7M534.0 143.0l7 -7M534.0 138.5h7M537.5 135.0v7M534.0 135.0l7 7M534.0 142.0l7 -7M534.0 137.5h7M537.5 134.0v7M534.0 134.0l7 7M534.0 141.0l7 -7M536.0 136.5h7M539.5 133.0v7M536.0 133.0l7 7M536.0 140.0l7 -7M536.0 135.5h7M539.5 132.0v7M536.0 132.0l7 7M536.0 139.0l7 -7M535.0 134.5h7M538.5 131.0v7M535.0 131.0l7 7M535.0 138.0l7 -7M536.0 132.5h7M539.5 129.0v7M536.0 129.0l7 7M536.0 136.0l7 -7M537.0 131.5h7M540.5 128.0v7M537.0 128.0l7 7M537.0 135.0l7 -7M538.0 130.5h7M541.5 127.0v7M538.0 127.0l7 7M538.0 134.0l7 -7M540.0 129.5h7M543.5 126.0v7M540.0 126.0l7 7M540.0 133.0l7 -7M543.0 128.5h7M546.5 125.0v7M543.0 125.0l7 7M543.0 132.0l7 -7M545.0 127.5h7M548.5 124.0v7M545.0 124.0l7 7M545.0 131.0l7 -7M545.0 126.5h7M548.5 123.0v7M545.0 123.0l7 7M545.0 130.0l7 -7M545.0 125.5h7M548.5 122.0v7M545.0 122.0l7 7M545.0 129.0l7 -7M546.0 123.5h7M549.5 120.0v7M546.0 120.0l7 7M546.0 127.0l7 -7M547.0 122.5h7M550.5 119.0v7M547.0 119.0l7 7M547.0 126.0l7 -7M548.0 121.5h7M551.5 118.0v7M548.0 118.0l7 7M548.0 125.0l7 -7M549.0 120.5h7M552.5 117.0v7M549.0 117.0l7 7M549.0 124.0l7 -7M549.0 119.5h7M552.5 116.0v7M549.0 116.0l7 7M549.0 123.0l7 -7M549.0 118.5h7M552.5 115.0v7M549.0 115.0l7 7M549.0 122.0l7 -7M550.0 117.5h7M553.5 114.0v7M550.0 114.0l7 7M550.0 121.0l7 -7M551.0 115.5h7M554.5 112.0v7M551.0 112.0l7 7M551.0 119.0l7 -7M552.0 114.5h7M555.5 111.0v7M552.0 111.0l7 7M552.0 118.0l7 -7M553.0 113.5h7M556.5 110.0v7M553.0 110.0l7 7M553.0 117.0l7 -7M553.0 112.5h7M556.5 109.0v7M553.0 109.0l7 7M553.0 116.0l7 -7M554.0 111.5h7M557.5 108.0v7M554.0 108.0l7 7M554.0 115.0l7 -7M554.0 110.5h7M557.5 107.0v7M554.0 107.0l7 7M554.0 114.0l7 -7M555.0 109.5h7M558.5 106.0v7M555.0 106.0l7 7M555.0 113.0l7 -7M557.0 107.5h7M560.5 104.0v7M557.0 104.0l7 7M557.0 111.0l7 -7M559.0 106.5h7M562.5 103.0v7M559.0 103.0l7 7M559.0 110.0l7 -7M561.0 105.5h7M564.5 102.0v7M561.0 102.0l7 7M561.0 109.0l7 -7M561.0 104.5h7M564.5 101.0v7M561.0 101.0l7 7M561.0 108.0l7 -7M562.0 103.5h7M565.5 100.0v7M562.0 100.0l7 7M562.0 107.0l7 -7M562.0 102.5h7M565.5 99.0v7M562.0 99.0l7 7M562.0 106.0l7 -7M562.0 101.5h7M565.5 98.0v7M562.0 98.0l7 7M562.0 105.0l7 -7M563.0 99.5h7M566.5 96.0v7M563.0 96.0l7 7M563.0 103.0l7 -7M564.0 98.5h7M567.5 95.0v7M564.0 95.0l7 7M564.0 102.0l7 -7M563.0 97.5h7M566.5 94.0v7M563.0 94.0l7 7M563.0 101.0l7 -7M565.0 96.5h7M568.5 93.0v7M565.0 93.0l7 7M565.0 100.0l7 -7M566.0 95.5h7M569.5 92.0v7M566.0 92.0l7 7M566.0 99.0l7 -7M568.0 94.5h7M571.5 91.0v7M568.0 91.0l7 7M568.0 98.0l7 -7M569.0 93.5h7M572.5 90.0v7M569.0 90.0l7 7M569.0 97.0l7 -7M568.0 91.5h7M571.5 88.0v7M568.0 88.0l7 7M568.0 95.0l7 -7M570.0 90.5h7M573.5 87.0v7M570.0 87.0l7 7M570.0 94.0l7 -7M571.0 89.5h7M574.5 86.0v7M571.0 86.0l7 7M571.0 93.0l7 -7M571.0 88.5h7M574.5 85.0v7M571.0 85.0l7 7M571.0 92.0l7 -7M572.0 87.5h7M575.5 84.0v7M572.0 84.0l7 7M572.0 91.0l7 -7M573.0 86.5h7M576.5 83.0v7M573.0 83.0l7 7M573.0 90.0l7 -7M575.0 85.5h7M578.5 82.0v7M575.0 82.0l7 7M575.0 89.0l7 -7M576.0 83.5h7M579.5 80.0v7M576.0 80.0l7 7M576.0 87.0l7 -7M581.0 82.5h7M584.5 79.0v7M581.0 79.0l7 7M581.0 86.0l7 -7M589.0 81.5h7M592.5 78.0v7M589.0 78.0l7 7M589.0 85.0l7 -7M590.0 80.5h7M593.5 77.0v7M590.0 77.0l7 7M590.0 84.0l7 -7M591.0 79.5h7M594.5 76.0v7M591.0 76.0l7 7M591.0 83.0l7 -7M592.0 78.5h7M595.5 75.0v7M592.0 75.0l7 7M592.0 82.0l7 -7M593.0 77.5h7M596.5 74.0v7M593.0 74.0l7 7M593.0 81.0l7 -7M593.0 75.5h7M596.5 72.0v7M593.0 72.0l7 7M593.0 79.0l7 -7M595.0 74.5h7M598.5 71.0v7M595.0 71.0l7 7M595.0 78.0l7 -7M594.0 73.5h7M597.5 70.0v7M594.0 70.0l7 7M594.0 77.0l7 -7M596.0 72.5h7M599.5 69.0v7M596.0 69.0l7 7M596.0 76.0l7 -7M598.0 71.5h7M601.5 68.0v7M598.0 68.0l7 7M598.0 75.0l7 -7M598.0 70.5h7M601.5 67.0v7M598.0 67.0l7 7M598.0 74.0l7 -7M599.0 69.5h7M602.5 66.0v7M599.0 66.0l7 7M599.0 73.0l7 -7M600.0 68.5h7M603.5 65.0v7M600.0 65.0l7 7M600.0 72.0l7 -7M604.0 66.5h7M607.5 63.0v7M604.0 63.0l7 7M604.0 70.0l7 -7M605.0 65.5h7M608.5 62.0v7M605.0 62.0l7 7M605.0 69.0l7 -7M607.0 64.5h7M610.5 61.0v7M607.0 61.0l7 7M607.0 68.0l7 -7M610.0 63.5h7M613.5 60.0v7M610.0 60.0l7 7M610.0 67.0l7 -7M610.0 62.5h7M613.5 59.0v7M610.0 59.0l7 7M610.0 66.0l7 -7M613.0 61.5h7M616.5 58.0v7M613.0 58.0l7 7M613.0 65.0l7 -7M614.0 60.5h7M617.5 57.0v7M614.0 57.0l7 7M614.0 64.0l7 -7M615.0 58.5h7M618.5 55.0v7M615.0 55.0l7 7M615.0 62.0l7 -7M617.0 57.5h7M620.5 54.0v7M617.0 54.0l7 7M617.0 61.0l7 -7M617.0 56.5h7M620.5 53.0v7M617.0 53.0l7 7M617.0 60.0l7 -7" fill="none" stroke="#56b4e9" shape-rendering="crispEdges"/>
<polyline points="53.5,436.5 55.5,431.5 57.5,428.5 59.5,426.5 63.5,425.5 69.5,423.5 70.5,417.5 74.5,413.5 78.5,407.5 82.5,393.5 86.5,384.5 90.5,378.5 94.5,371.5 101.5,369.5 112.5,361.5 120.5,356.5 125.5,354.5 130.5,349.5 141.5,348.5 152.5,348.5 153.5,346.5 160.5,339.5 172.5,330.5 180.5,328.5 190.5,324.5 200.5,324.5 211.5,323.5 223.5,321.5 235.5,318.5 246.5,316.5 260.5,314.5 275.5,314.5 278.5,311.5 285.5,309.5 300.5,309.5 313.5,306.5 316.5,304.5 318.5,297.5 322.5,291.5 329.5,287.5 337.5,282.5 351.5,278.5 357.5,269.5 367.5,260.5 385.5,260.5 397.5,259.5 405.5,255.5 407.5,254.5 414.5,245.5 418.5,245.5 437.5,241.5 447.5,239.5 460.5,237.5 465.5,237.5 495.5,236.5 499.5,234.5 514.5,233.5 520.5,229.5 536.5,226.5 540.5,217.5 545.5,214.5 551.5,210.5 555.5,203.5 557.5,195.5 566.5,192.5 573.5,182.5 580.5,175.5 591.5,174.5 601.5,163.5 608.5,159.5 613.5,158.5 620.5,153.5 621.5,152.5" fill="none" stroke="#e69f00" shape-rendering="crispEdges"/>
<rect x="53" y="40" width="143" height="55" fill="#fff"/>
<path d="M52.5 438V434M52.5 39V44M93.5 438V434M93.5 39V44M133.5 438V434M133.5 39V44M174.5 438V434M174.5 39V44M215.5 438V434M215.5 39V44M255.5 438V434M255.5 39V44M296.5 438V434M296.5 39V44M337.5 438V434M337.5 39V44M377.5 438V434M377.5 39V44M418.5 438V434M418.5 39V44M458.5 438V434M458.5 39V44M499.5 438V434M499.5 39V44M540.5 438V434M540.5 39V44M580.5 438V434M580.5 39V44M621.5 438V434M621.5 39V44M54.5 438V436M54.5 39V42M55.5 438V436M55.5 39V42M57.5 438V436M57.5 39V42M59.5 438V436M59.5 39V42M60.5 438V436M60.5 39V42M62.5 438V436M62.5 39V42M64.5 438V436M64.5 39V42M66.5 438V436M66.5 39V42M67.5 438V436M67.5 39V42M69.5 438V436M69.5 39V42M71.5 438V436M71.5 39V42M72.5 438V436M72.5 39V42M74.5 438V436M74.5 39V42M76.5 438V436M76.5 39V42M77.5 438V436M77.5 39V42M79.5 438V436M79.5 39V42M81.5 438V436M81.5 39V42M82.5 438V436M82.5 39V42M84.5 438V436M84.5 39V42M86.5 438V436M86.5 39V42M88.5 438V436M88.5 39V42M89.5 438V436M89.5 39V42M91.5 438V436M91.5 39V42M94.5 438V436M94.5 39V42M96.5 438V436M96.5 39V42M98.5 438V436M98.5 39V42M99.5 438V436M99.5 39V42M101.5 438V436M101.5 39V42M103.5 438V436M103.5 39V42M104.5 438V436M104.5 39V42M106.5 438V436M106.5 39V42M108.5 438V436M108.5 39V42M110.5 438V436M110.5 39V42M111.5 438V436M111.5 39V42M113.5 438V436M113.5 39V42M115.5 438V436M115.5 39V42M116.5 438V436M116.5 39V42M118.5 438V436M118.5 39V42M120.5 438V436M120.5 39V42M121.5 438V436M121.5 39V42M123.5 438V436M123.5 39V42M125.5 438V436M125.5 39V42M127.5 438V436M127.5 39V42M128.5 438V436M128.5 39V42M130.5 438V436M130.5 39V42M132.5 438V436M132.5 39V42M135.5 438V436M135.5 39V42M137.5 438V436M137.5 39V42M138.5 438V436M138.5 39V42M140.5 438V436M140.5 39V42M142.5 438V436M142.5 39V42M143.5 438V436M143.5 39V42M145.5 438V436M145.5 39V42M147.5 438V436M147.5 39V42M149.5 438V436M149.5 39V42M150.5 438V436M150.5 39V42M152.5 438V436M152.5 39V42M154.5 438V436M154.5 39V42M155.5 438V436M155.5 39V42M157.5 438V436M157.5 39V42M159.5 438V436M159.5 39V42M160.5 438V436M160.5 39V42M162.5 438V436M162.5 39V42M164.5 438V436M164.5 39V42M165.5 438V436M165.5 39V42M167.5 438V436M167.5 39V42M169.5 438V436M169.5 39V42M171.5 438V436M171.5 39V42M172.5 438V436M172.5 39V42M176.5 438V436M176.5 39V42M177.5 438V436M177.5 39V42M179.5 438V436M179.5 39V42M181.5 438V436M181.5 39V42M182.5 438V436M182.5 39V42M184.5 438V436M184.5 39V42M186.5 438V436M186.5 39V42M187.5 438V436M187.5 39V42M189.5 438V436M189.5 39V42M191.5 438V436M191.5 39V42M193.5 438V436M193.5 39V42M194.5 438V436M194.5 39V42M196.5 438V436M196.5 39V42M198.5 438V436M198.5 39V42M199.5 438V436M199.5 39V42M201.5 438V436M201.5 39V42M203.5 438V436M203.5 39V42M204.5 438V436M204.5 39V42M206.5 438V436M206.5 39V42M208.5 438V436M208.5 39V42M209.5 438V436M209.5 39V42M211.5 438V436M211.5 39V42M213.5 438V436M213.5 39V42M216.5 438V436M216.5 39V42M218.5 438V436M218.5 39V42M220.5 438V436M220.5 39V42M221.5 438V436M221.5 39V42M223.5 438V436M223.5 39V42M225.5 438V436M225.5 39V42M226.5 438V436M226.5 39V42M228.5 438V436M228.5 39V42M230.5 438V436M230.5 39V42M232.5 438V436M232.5 39V42M233.5 438V436M233.5 39V42M235.5 438V436M235.5 39V42M237.5 438V436M237.5 39V42M238.5 438V436M238.5 39V42M240.5 438V436M240.5 39V42M242.5 438V436M242.5 39V42M243.5 438V436M243.5 39V42M245.5 438V436M245.5 39V42M247.5 438V436M247.5 39V42M248.5 438V436M248.5 39V42M250.5 438V436M250.5 39V42M252.5 438V436M252.5 39V42M254.5 438V436M254.5 39V42M257.5 438V436M257.5 39V42M259.5 438V436M259.5 39V42M260.5 438V436M260.5 39V42M262.5 438V436M262.5 39V42M264.5 438V436M264.5 39V42M265.5 438V436M265.5 39V42M267.5 438V436M267.5 39V42M269.5 438V436M269.5 39V42M270.5 438V436M270.5 39V42M272.5 438V436M272.5 39V42M274.5 438V436M274.5 39V42M276.5 438V436M276.5 39V42M277.5 438V436M277.5 39V42M279.5 438V436M279.5 39V42M281.5 438V436M281.5 39V42M282.5 438V436M282.5 39V42M284.5 438V436M284.5 39V42M286.5 438V436M286.5 39V42M287.5 438V436M287.5 39V42M289.5 438V436M289.5 39V42M291.5 438V436M291.5 39V42M292.5 438V436M292.5 39V42M294.5 438V436M294.5 39V42M298.5 438V436M298.5 39V42M299.5 438V436M299.5 39V42M301.5 438V436M301.5 39V42M303.5 438V436M303.5 39V42M304.5 438V436M304.5 39V42M306.5 438V436M306.5 39V42M308.5 438V436M308.5 39V42M309.5 438V436M309.5 39V42M311.5 438V436M311.5 39V42M313.5 438V436M313.5 39V42M314.5 438V436M314.5 39V42M316.5 438V436M316.5 39V42M318.5 438V436M318.5 39V42M320.5 438V436M320.5 39V42M321.5 438V436M321.5 39V42M323.5 438V436M323.5 39V42M325.5 438V436M325.5 39V42M326.5 438V436M326.5 39V42M328.5 438V436M328.5 39V42M330.5 438V436M330.5 39V42M331.5 438V436M331.5 39V42M333.5 438V436M333.5 39V42M335.5 438V436M335.5 39V42M338.5 438V436M338.5 39V42M340.5 438V436M340.5 39V42M342.5 438V436M342.5 39V42M343.5 438V436M343.5 39V42M345.5 438V436M345.5 39V42M347.5 438V436M347.5 39V42M348.5 438V436M348.5 39V42M350.5 438V436M350.5 39V42M352.5 438V436M352.5 39V42M353.5 438V436M353.5 39V42M355.5 438V436M355.5 39V42M357.5 438V436M357.5 39V42M359.5 438V436M359.5 39V42M360.5 438V436M360.5 39V42M362.5 438V436M362.5 39V42M364.5 438V436M364.5 39V42M365.5 438V436M365.5 39V42M367.5 438V436M367.5 39V42M369.5 438V436M369.5 39V42M370.5 438V436M370.5 39V42M372.5 438V436M372.5 39V42M374.5 438V436M374.5 39V42M375.5 438V436M375.5 39V42M379.5 438V436M379.5 39V42M381.5 438V436M381.5 39V42M382.5 438V436M382.5 39V42M384.5 438V436M384.5 39V42M386.5 438V436M386.5 39V42M387.5 438V436M387.5 39V42M389.5 438V436M389.5 39V42M391.5 438V436M391.5 39V42M392.5 438V436M392.5 39V42M394.5 438V436M394.5 39V42M396.5 438V436M396.5 39V42M397.5 438V436M397.5 39V42M399.5 438V436M399.5 39V42M401.5 438V436M401.5 39V42M403.5 438V436M403.5 39V42M404.5 438V436M404.5 39V42M406.5 438V436M406.5 39V42M408.5 438V436M408.5 39V42M409.5 438V436M409.5 39V42M411.5 438V436M411.5 39V42M413.5 438V436M413.5 39V42M414.5 438V436M414.5 39V42M416.5 438V436M416.5 39V42M419.5 438V436M419.5 39V42M421.5 438V436M421.5 39V42M423.5 438V436M423.5 39V42M425.5 438V436M425.5 39V42M426.5 438V436M426.5 39V42M428.5 438V436M428.5 39V42M430.5 438V436M430.5 39V42M431.5 438V436M431.5 39V42M433.5 438V436M433.5 39V42M435.5 438V436M435.5 39V42M436.5 438V436M436.5 39V42M438.5 438V436M438.5 39V42M440.5 438V436M440.5 39V42M441.5 438V436M441.5 39V42M443.5 438V436M443.5 39V42M445.5 438V436M445.5 39V42M447.5 438V436M447.5 39V42M448.5 438V436M448.5 39V42M450.5 438V436M450.5 39V42M452.5 438V436M452.5 39V42M453.5 438V436M453.5 39V42M455.5 438V436M455.5 39V42M457.5 438V436M457.5 39V42M460.5 438V436M460.5 39V42M462.5 438V436M462.5 39V42M464.5 438V436M464.5 39V42M465.5 438V436M465.5 39V42M467.5 438V436M467.5 39V42M469.5 438V436M469.5 39V42M470.5 438V436M470.5 39V42M472.5 438V436M472.5 39V42M474.5 438V436M474.5 39V42M475.5 438V436M475.5 39V42M477.5 438V436M477.5 39V42M479.5 438V436M479.5 39V42M480.5 438V436M480.5 39V42M482.5 438V436M482.5 39V42M484.5 438V436M484.5 39V42M486.5 438V436M486.5 39V42M487.5 438V436M487.5 39V42M489.5 438V436M489.5 39V42M491.5 438V436M491.5 39V42M492.5 438V436M492.5 39V42M494.5 438V436M494.5 39V42M496.5 438V436M496.5 39V42M497.5 438V436M497.5 39V42M501.5 438V436M501.5 39V42M502.5 438V436M502.5 39V42M504.5 438V436M504.5 39V42M506.5 438V436M506.5 39V42M508.5 438V436M508.5 39V42M509.5 438V436M509.5 39V42M511.5 438V436M511.5 39V42M513.5 438V436M513.5 39V42M514.5 438V436M514.5 39V42M516.5 438V436M516.5 39V42M518.5 438V436M518.5 39V42M519.5 438V436M519.5 39V42M521.5 438V436M521.5 39V42M523.5 438V436M523.5 39V42M524.5 438V436M524.5 39V42M526.5 438V436M526.5 39V42M528.5 438V436M528.5 39V42M530.5 438V436M530.5 39V42M531.5 438V436M531.5 39V42M533.5 438V436M533.5 39V42M535.5 438V436M535.5 39V42M536.5 438V436M536.5 39V42M538.5 438V436M538.5 39V42M541.5 438V436M541.5 39V42M543.5 438V436M543.5 39V42M545.5 438V436M545.5 39V42M546.5 438V436M546.5 39V42M548.5 438V436M548.5 39V42M550.5 438V436M550.5 39V42M552.5 438V436M552.5 39V42M553.5 438V436M553.5 39V42M555.5 438V436M555.5 39V42M557.5 438V436M557.5 39V42M558.5 438V436M558.5 39V42M560.5 438V436M560.5 39V42M562.5 438V436M562.5 39V42M563.5 438V436M563.5 39V42M565.5 438V436M565.5 39V42M567.5 438V436M567.5 39V42M569.5 438V436M569.5 39V42M570.5 438V436M570.5 39V42M572.5 438V436M572.5 39V42M574.5 438V436M574.5 39V42M575.5 438V436M575.5 39V42M577.5 438V436M577.5 39V42M579.5 438V436M579.5 39V42M582.5 438V436M582.5 39V42M584.5 438V436M584.5 39V42M585.5 438V436M585.5 39V42M587.5 438V436M587.5 39V42M589.5 438V436M589.5 39V42M591.5 438V436M591.5 39V42M592.5 438V436M592.5 39V42M594.5 438V436M594.5 39V42M596.5 438V436M596.5 39V42M597.5 438V436M597.5 39V42M599.5 438V436M599.5 39V42M601.5 438V436M601.5 39V42M602.5 438V436M602.5 39V42M604.5 438V436M604.5 39V42M606.5 438V436M606.5 39V42M607.5 438V436M607.5 39V42M609.5 438V436M609.5 39V42M611.5 438V436M611.5 39V42M613.5 438V436M613.5 39V42M614.5 438V436M614.5 39V42M616.5 438V436M616.5 39V42M618.5 438V436M618.5 39V42M619.5 438V436M619.5 39V42M52 438.5h5M621 438.5h-4M52 432.5h3M621 432.5h-2M52 427.5h3M621 427.5h-2M52 421.5h3M621 421.5h-2M52 415.5h3M621 415.5h-2M52 410.5h3M621 410.5h-2M52 404.5h3M621 404.5h-2M52 398.5h3M621 398.5h-2M52 392.5h3M621 392.5h-2M52 387.5h3M621 387.5h-2M52 381.5h5M621 381.5h-4M52 375.5h3M621 375.5h-2M52 370.5h3M621 370.5h-2M52 364.5h3M621 364.5h-2M52 358.5h3M621 358.5h-2M52 353.5h3M621 353.5h-2M52 347.5h3M621 347.5h-2M52 341.5h3M621 341.5h-2M52 335.5h3M621 335.5h-2M52 330.5h3M621 330.5h-2M52 324.5h5M621 324.5h-4M52 318.5h3M621 318.5h-2M52 313.5h3M621 313.5h-2M52 307.5h3M621 307.5h-2M52 301.5h3M621 301.5h-2M52 296.5h3M621 296.5h-2M52 290.5h3M621 290.5h-2M52 284.5h3M621 284.5h-2M52 278.5h3M621 278.5h-2M52 273.5h3M621 273.5h-2M52 267.5h5M621 267.5h-4M52 261.5h3M621 261.5h-2M52 256.5h3M621 256.5h-2M52 250.5h3M621 250.5h-2M52 244.5h3M621 244.5h-2M52 239.5h3M621 239.5h-2M52 233.5h3M621 233.5h-2M52 227.5h3M621 227.5h-2M52 221.5h3M621 221.5h-2M52 216.5h3M621 216.5h-2M52 210.5h5M621 210.5h-4M52 204.5h3M621 204.5h-2M52 199.5h3M621 199.5h-2M52 193.5h3M621 193.5h-2M52 187.5h3M621 187.5h-2M52 182.5h3M621 182.5h-2M52 176.5h3M621 176.5h-2M52 170.5h3M621 170.5h-2M52 164.5h3M621 164.5h-2M52 159.5h3M621 159.5h-2M52 153.5h5M621 153.5h-4M52 147.5h3M621 147.5h-2M52 142.5h3M621 142.5h-2M52 136.5h3M621 136.5h-2M52 130.5h3M621 130.5h-2M52 125.5h3M621 125.5h-2M52 119.5h3M621 119.5h-2M52 113.5h3M621 113.5h-2M52 107.5h3M621 107.5h-2M52 102.5h3M621 102.5h-2M52 96.5h5M621 96.5h-4M52 90.5h3M621 90.5h-2M52 85.5h3M621 85.5h-2M52 79.5h3M621 79.5h-2M52 73.5h3M621 73.5h-2M52 68.5h3M621 68.5h-2M52 62.5h3M621 62.5h-2M52 56.5h3M621 56.5h-2M52 50.5h3M621 50.5h-2M52 45.5h3M621 45.5h-2M52 39.5h5M621 39.5h-4" stroke="#000" fill="none" shape-rendering="crispEdges"/>
<rect x="52.5" y="39.5" width="569" height="399" fill="none" stroke="#000" shape-rendering="crispEdges"/>
<path d="M160 50.5H189" stroke="#9400d3" shape-rendering="crispEdges"/>
<path d="M171.0 50.5h7M174.5 47.0v7" stroke="#9400d3" fill="none" shape-rendering="crispEdges"/>
<path d="M160 63.5H189" stroke="#009e73" shape-rendering="crispEdges"/>
<path d="M171.0 60.0l7 7M171.0 67.0l7 -7" stroke="#009e73" fill="none" shape-rendering="crispEdges"/>
<path d="M160 76.5H189" stroke="#56b4e9" shape-rendering="crispEdges"/>
<path d="M171.0 76.5h7M174.5 73.0v7M171.0 73.0l7 7M171.0 80.0l7 -7" stroke="#56b4e9" fill="none" shape-rendering="crispEdges"/>
<path d="M160 89.5H189" stroke="#e69f00" shape-rendering="crispEdges"/>
<g filter="url(#crisp)"><g transform="scale(0.8696 1.0000)"><text x="66.12 73.02 79.92 86.82 93.72 100.62 107.52 114.42 121.32 128.22 135.12 142.02 148.92 155.82 162.72 169.62" y="55.00">Rejected Ballots</text><text x="86.82 93.72 100.62 107.52 114.42 121.32 128.22 135.12 142.02 148.92 155.82 162.72 169.62" y="68.00">Vote Tallied,</text><text x="66.12 73.02 79.92 86.82 93.72 100.62 107.52 114.42 121.32 128.22 135.12 142.02 148.92 155.82 162.72 169.62" y="81.00">Received Ballots</text><text x="66.12 73.02 79.92 86.82 93.72 100.62 107.52 114.42 121.32 128.22 135.12 142.02 148.92 155.82 162.72 169.62" y="94.00">Acknowledgements</text><text x="337.52 344.42 351.32 358.22 365.12 372.02 378.92 385.82 392.72 399.62 406.52 413.42 420.32 427.22" y="24.00">Voting secrecy</text><text x="45.66" y="443.00"><tspan font-family="Liberation Sans">0</tspan></text><text x="38.52 45.66" y="386.00">5<tspan font-family="Liberation Sans">0</tspan></text><text x="31.62 38.76 45.66" y="329.00">1<tspan font-family="Liberation Sans">0</tspan><tspan font-family="Liberation Sans">0</tspan></text><text x="31.62 38.52 45.66" y="272.00">15<tspan font-family="Liberation Sans">0</tspan></text><text x="31.62 38.76 45.66" y="215.00">2<tspan font-family="Liberation Sans">0</tspan><tspan font-family="Liberation Sans">0</tspan></text><text x="31.62 38.52 45.66" y="158.00">25<tspan font-family="Liberation Sans">0</tspan></text><text x="31.62 38.76 45.66" y="101.00">3<tspan font-family="Liberation Sans">0</tspan><tspan font-family="Liberation Sans">0</tspan></text><text x="31.62 38.52 45.66" y="44.00">35<tspan font-family="Liberation Sans">0</tspan></text><text x="42.20 48.87 55.77 62.67 69.57" y="456.00"><tspan font-family="Liberation Sans">0</tspan>3/13</text><text x="42.20 49.10 55.77 62.90 69.80" y="469.00"><tspan font-family="Liberation Sans">0</tspan><tspan font-family="Liberation Sans">0</tspan>:<tspan font-family="Liberation Sans">0</tspan><tspan font-family="Liberation Sans">0</tspan></text><text x="89.35 96.02 102.92 109.82 116.72" y="456.00"><tspan font-family="Liberation Sans">0</tspan>3/14</text><text x="89.35 96.25 102.92 110.05 116.95" y="469.00"><tspan font-family="Liberation Sans">0</tspan><tspan font-family="Liberation Sans">0</tspan>:<tspan font-family="Liberation Sans">0</tspan><tspan font-family="Liberation Sans">0</tspan></text><text x="135.35 142.02 148.92 155.82 162.72" y="456.00"><tspan font-family="Liberation Sans">0</tspan>3/15</text><text x="135.35 142.25 148.92 156.05 162.95" y="469.00"><tspan font-family="Liberation Sans">0</tspan><tspan font-family="Liberation Sans">0</tspan>:<tspan font-family="Liberation Sans">0</tspan><tspan font-family="Liberation Sans">0</tspan></text><text x="182.50 189.17 196.07 202.97 209.87" y="456.00"><tspan font-family="Liberation Sans">0</tspan>3/16</text><text x="182.50 189.40 196.07 203.20 210.10" y="469.00"><tspan font-family="Liberation Sans">0</tspan><tspan font-family="Liberation Sans">0</tspan>:<tspan font-family="Liberation Sans">0</tspan><tspan font-family="Liberation Sans">0</tspan></text><text x="229.65 236.32 243.22 250.12 257.02" y="456.00"><tspan font-family="Liberation Sans">0</tspan>3/17</text><text x="229.65 236.55 243.22 250.35 257.25" y="469.00"><tspan font-family="Liberation Sans">0</tspan><tspan font-family="Liberation Sans">0</tspan>:<tspan font-family="Liberation Sans">0</tspan><tspan font-family="Liberation Sans">0</tspan></text><text x="275.65 282.32 289.22 296.12 303.02" y="456.00"><tspan font-family="Liberation Sans">0</tspan>3/18</text><text x="275.65 282.55 289.22 296.35 303.25" y="469.00"><tspan font-family="Liberation Sans">0</tspan><tspan font-family="Liberation Sans">0</tspan>:<tspan font-family="Liberation Sans">0</tspan><tspan font-family="Liberation Sans">0</tspan></text><text x="322.80 329.47 336.37 343.27 350.17" y="456.00"><tspan font-family="Liberation Sans">0</tspan>3/19</text><text x="322.80 329.70 336.37 343.50 350.40" y="469.00"><tspan font-family="Liberation Sans">0</tspan><tspan font-family="Liberation Sans">0</tspan>:<tspan font-family="Liberation Sans">0</tspan><tspan font-family="Liberation Sans">0</tspan></text><text x="369.95 376.62 383.52 390.42 397.55" y="456.00"><tspan font-family="Liberation Sans">0</tspan>3/2<tspan font-family="Liberation Sans">0</tspan></text><text x="369.95 376.85 383.52 390.65 397.55" y="469.00"><tspan font-family="Liberation Sans">0</tspan><tspan font-family="Liberation Sans">0</tspan>:<tspan font-family="Liberation Sans">0</tspan><tspan font-family="Liberation Sans">0</tspan></text><text x="415.95 422.62 429.52 436.42 443.32" y="456.00"><tspan font-family="Liberation Sans">0</tspan>3/21</text><text x="415.95 422.85 429.52 436.65 443.55" y="469.00"><tspan font-family="Liberation Sans">0</tspan><tspan font-family="Liberation Sans">0</tspan>:<tspan font-family="Liberation Sans">0</tspan><tspan font-family="Liberation Sans">0</tspan></text><text x="463.10 469.77 476.67 483.57 490.47" y="456.00"><tspan font-family="Liberation Sans">0</tspan>3/22</text><text x="463.10 470.00 476.67 483.80 490.70" y="469.00"><tspan font-family="Liberation Sans">0</tspan><tspan font-family="Liberation Sans">0</tspan>:<tspan font-family="Liberation Sans">0</tspan><tspan font-family="Liberation Sans">0</tspan></text><text x="509.10 515.77 522.67 529.57 536.47" y="456.00"><tspan font-family="Liberation Sans">0</tspan>3/23</text><text x="509.10 516.00 522.67 529.80 536.70" y="469.00"><tspan font-family="Liberation Sans">0</tspan><tspan font-family="Liberation Sans">0</tspan>:<tspan font-family="Liberation Sans">0</tspan><tspan font-family="Liberation Sans">0</tspan></text><text x="556.25 562.92 569.82 576.72 583.62" y="456.00"><tspan font-family="Liberation Sans">0</tspan>3/24</text><text x="556.25 563.15 569.82 576.95 583.85" y="469.00"><tspan font-family="Liberation Sans">0</tspan><tspan font-family="Liberation Sans">0</tspan>:<tspan font-family="Liberation Sans">0</tspan><tspan font-family="Liberation Sans">0</tspan></text><text x="603.40 610.07 616.97 623.87 630.77" y="456.00"><tspan font-family="Liberation Sans">0</tspan>3/25</text><text x="603.40 610.30 616.97 624.11 631.00" y="469.00"><tspan font-family="Liberation Sans">0</tspan><tspan font-family="Liberation Sans">0</tspan>:<tspan font-family="Liberation Sans">0</tspan><tspan font-family="Liberation Sans">0</tspan></text><text x="649.40 656.07 662.97 669.87 676.77" y="456.00"><tspan font-family="Liberation Sans">0</tspan>3/26</text><text x="649.40 656.30 662.97 670.11 677.00" y="469.00"><tspan font-family="Liberation Sans">0</tspan><tspan font-family="Liberation Sans">0</tspan>:<tspan font-family="Liberation Sans">0</tspan><tspan font-family="Liberation Sans">0</tspan></text><text x="696.55 703.22 710.12 717.02 723.92" y="456.00"><tspan font-family="Liberation Sans">0</tspan>3/27</text><text x="696.55 703.45 710.12 717.25 724.15" y="469.00"><tspan font-family="Liberation Sans">0</tspan><tspan font-family="Liberation Sans">0</tspan>:<tspan font-family="Liberation Sans">0</tspan><tspan font-family="Liberation Sans">0</tspan></text><text x="334.07 340.97 347.87 354.77 361.67 368.57 375.47 382.37 389.27 396.17 403.07 409.97 416.87 423.77 430.67" y="475.00">Date/Time (UTC)</text></g>
</g><g filter="url(#crisp2)"><g transform="translate(14 262) rotate(-90) scale(0.8696 1.0000)"><text x="0.57 7.47 14.37 21.27 28.17 35.07 41.97" y="0.00">Ballots</text></g></g>
</svg></body></html>
